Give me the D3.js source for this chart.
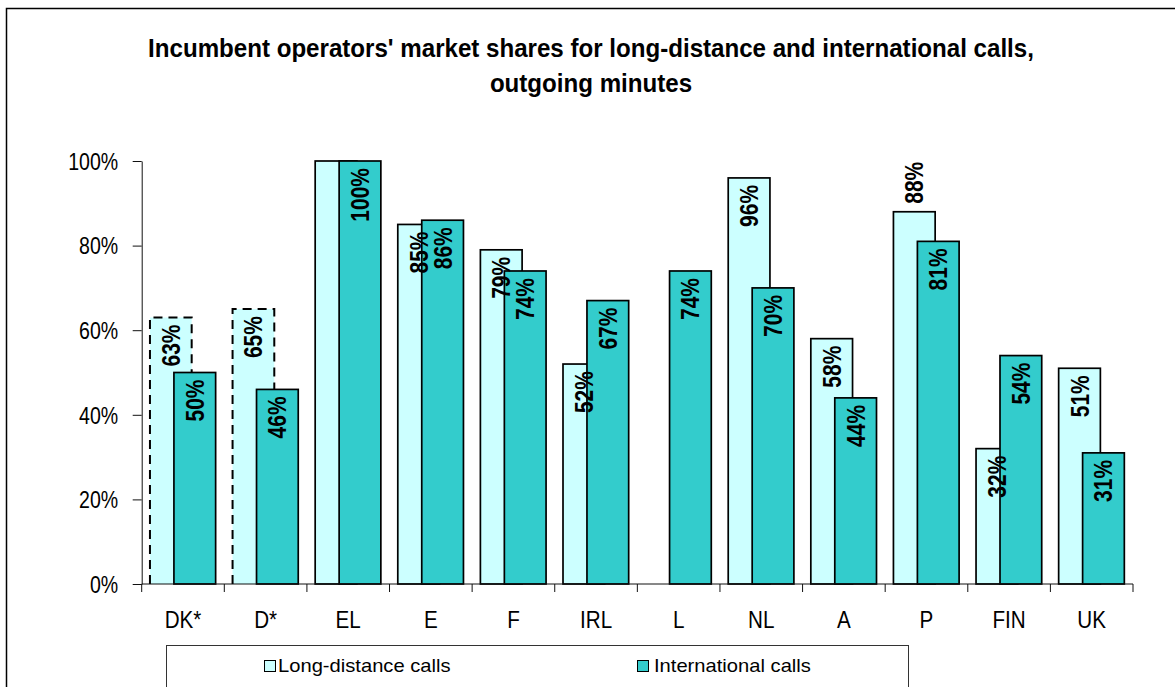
<!DOCTYPE html>
<html>
<head>
<meta charset="utf-8">
<script src="https://cdn.jsdelivr.net/npm/d3@7"></script>
<style>
body { margin: 0; background: #fff; }
svg { display: block; font-family: "Liberation Sans", Arial, sans-serif; }
</style>
</head>
<body>
<svg width="1175" height="687"></svg>
<script>
// data
var categories = ["DK*", "D*", "EL", "E", "F", "IRL", "L", "NL", "A", "P", "FIN", "UK"],
    longDistance = [63, 65, 100, 85, 79, 52, null, 96, 58, 88, 32, 51],
    international = [50, 46, 100, 86, 74, 67, 74, 70, 44, 81, 54, 31],
    estimated = ["DK*", "D*"],       // drawn with a dashed outline
    noLabel = ["EL"],                // long-distance label hidden
    labelAbove = ["P"],              // long-distance label outside end
    yTicks = [0, 20, 40, 60, 80, 100],
    seriesNames = ["Long-distance calls", "International calls"],
    titleLines = ["Incumbent operators' market shares for long-distance and international calls,",
                  "outgoing minutes"];

// colors
var colorLong = "#ccffff",
    colorIntl = "#33cccc",
    colorAxis = "#111";

var svg = d3.select("svg"),
    width = +svg.attr("width"),
    height = +svg.attr("height");

var x = d3.scaleBand().domain(categories).range([141.7, 1133]),
    y = d3.scaleLinear().domain([0, 100]).range([584, 161]),
    bw = x.bandwidth(),
    barW = bw * 0.505,
    offLong = bw * 0.1,
    offIntl = bw * 0.39;

// squeezed text helper (the original fonts are narrow)
function put(sel, px, py, sx, rot) {
  return sel.attr("transform", "translate(" + px + "," + py + ")" +
    (rot ? " rotate(" + rot + ")" : "") + " scale(" + sx + ",1)");
}

// outer frame
svg.append("path")
    .attr("d", "M6.5," + height + "V8.5H" + width)
    .attr("fill", "none")
    .attr("stroke", "#000")
    .attr("stroke-width", 1.5);

// title
svg.append("g").selectAll("text")
    .data(titleLines)
  .enter().append("text")
    .attr("text-anchor", "middle")
    .attr("font-weight", "bold")
    .attr("font-size", 25)
    .text(function(d) { return d; })
    .each(function(d, i) { put(d3.select(this), 591, 56.7 + i * 35, 0.965); });

// y axis
var yAxis = svg.append("g")
    .attr("transform", "translate(141.7,0)")
    .call(d3.axisLeft(y).tickValues(yTicks).tickFormat(function(d) { return d + "%"; })
      .tickSize(9).tickSizeOuter(0));
yAxis.select(".domain").attr("stroke", colorAxis);
yAxis.selectAll(".tick line").attr("stroke", colorAxis);
yAxis.selectAll(".tick text")
    .attr("x", null).attr("dy", "0.36em")
    .attr("font-size", 23)
    .attr("font-family", null)
    .attr("fill", "#000")
    .each(function() { put(d3.select(this), -23.5, 0, 0.85); });
yAxis.attr("font-family", null).attr("font-size", null);

// bars
var rows = categories.map(function(c, i) {
  return {cat: c, ld: longDistance[i], intl: international[i]};
});

var gLong = svg.append("g"),
    gIntl = svg.append("g"),
    gLabels = svg.append("g");

rows.filter(function(d) { return d.ld != null; }).forEach(function(d) {
  var x0 = x(d.cat) + offLong, y0 = y(d.ld), y1 = y(0);
  if (estimated.indexOf(d.cat) >= 0) {
    gLong.append("rect")
        .attr("x", x0).attr("y", y0)
        .attr("width", barW).attr("height", y1 - y0)
        .attr("fill", colorLong);
    gLong.append("path")
        .attr("d", "M" + x0 + "," + y1 + "V" + y0 + "H" + (x0 + barW) + "V" + y1)
        .attr("fill", "none")
        .attr("stroke", "#000")
        .attr("stroke-width", 2)
        .attr("stroke-dasharray", "9,6");
  } else {
    gLong.append("rect")
        .attr("x", x0).attr("y", y0)
        .attr("width", barW).attr("height", y1 - y0)
        .attr("fill", colorLong)
        .attr("stroke", "#000")
        .attr("stroke-width", 1.7);
  }
});

gIntl.selectAll("rect")
    .data(rows)
  .enter().append("rect")
    .attr("x", function(d) { return x(d.cat) + offIntl; })
    .attr("y", function(d) { return y(d.intl); })
    .attr("width", barW)
    .attr("height", function(d) { return y(0) - y(d.intl); })
    .attr("fill", colorIntl)
    .attr("stroke", "#000")
    .attr("stroke-width", 1.7);

// value labels
function valueLabel(val, cx, top, above) {
  var t = gLabels.append("text")
      .attr("font-weight", "bold")
      .attr("font-size", 25)
      .attr("dy", "0.36em")
      .attr("text-anchor", above ? "start" : "end")
      .text(val + "%");
  put(t, cx, above ? top - 8 : top + 7, 0.84, -90);
}

rows.forEach(function(d) {
  if (d.ld != null && noLabel.indexOf(d.cat) < 0)
    valueLabel(d.ld, x(d.cat) + offLong + barW / 2, y(d.ld), labelAbove.indexOf(d.cat) >= 0);
  valueLabel(d.intl, x(d.cat) + offIntl + barW / 2, y(d.intl), false);
});

// x axis
var gx = svg.append("g");
gx.append("path")
    .attr("d", "M" + x.range()[0] + "," + y(0) + "H" + x.range()[1])
    .attr("stroke", colorAxis);
gx.selectAll("line")
    .data(categories.map(function(c) { return x(c); }).concat([x.range()[1]]))
  .enter().append("line")
    .attr("x1", function(d) { return d; }).attr("x2", function(d) { return d; })
    .attr("y1", y(0)).attr("y2", y(0) + 8)
    .attr("stroke", colorAxis);
gx.selectAll("text")
    .data(categories)
  .enter().append("text")
    .attr("text-anchor", "middle")
    .attr("font-size", 24)
    .text(function(d) { return d; })
    .each(function(d) { put(d3.select(this), x(d) + bw / 2, 628, 0.86); });

// legend
var legend = svg.append("g");
legend.append("rect")
    .attr("x", 166.5).attr("y", 645.5)
    .attr("width", 742).attr("height", 80)
    .attr("fill", "#fff")
    .attr("stroke", "#333");
var items = legend.selectAll("g.item")
    .data(seriesNames)
  .enter().append("g")
    .attr("class", "item")
    .attr("transform", function(d, i) { return "translate(" + [264.5, 637.5][i] + ",0)"; });
items.append("rect")
    .attr("x", 0).attr("y", 660.5)
    .attr("width", 11).attr("height", 11)
    .attr("fill", function(d, i) { return [colorLong, colorIntl][i]; })
    .attr("stroke", "#000");
items.append("text")
    .attr("font-size", 18)
    .text(function(d) { return d; })
    .each(function(d, i) { put(d3.select(this), 13.5 + i * 3, 671.5, 1.12); });
</script>
</body>
</html>
